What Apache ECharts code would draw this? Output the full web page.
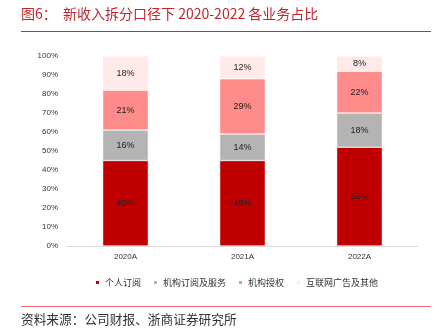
<!DOCTYPE html>
<html><head><meta charset="utf-8">
<script src="https://cdn.jsdelivr.net/npm/echarts@6/dist/echarts.min.js"></script>
<style>html,body{margin:0;padding:0;background:#fff}#c{width:439px;height:332px}</style>
</head><body><div id="c"></div>
<script>
var categories = ['2020A', '2021A', '2022A'];
var seriesNames = ['个人订阅', '机构订阅及服务', '机构授权', '互联网广告及其他'];
var personal = [45, 45, 52];
var institution = [16, 14, 18];
var licensing = [21, 29, 22];
var adsOther = [18, 12, 8];
var yTicks = [0, 10, 20, 30, 40, 50, 60, 70, 80, 90, 100];

var colors = ['#C00000', '#B4B4B4', '#FF8B8B', '#FFE9E9'];
var data = [personal, institution, licensing, adsOther];
var chart = echarts.init(document.getElementById('c'), null, {renderer: 'canvas'});
var font = '"Noto Sans CJK SC", sans-serif';
chart.setOption({
  animation: false,
  grid: {left: 67, right: 21, top: 56, bottom: 86},
  legend: {
    top: 273, left: 89, itemWidth: 5, itemHeight: 5, itemGap: 11,
    icon: 'rect',
    textStyle: {fontSize: 9, color: '#333', fontFamily: font},
    data: seriesNames
  },
  xAxis: {
    type: 'category', data: categories,
    axisLine: {lineStyle: {color: '#D9D9D9'}},
    axisTick: {show: false},
    axisLabel: {fontSize: 8, color: '#333', margin: 7, fontFamily: 'Arial, "Liberation Sans", sans-serif'}
  },
  yAxis: {
    type: 'value', min: 0, max: 100, interval: 10,
    axisLine: {show: false}, axisTick: {show: false},
    splitLine: {show: false},
    axisLabel: {fontSize: 8, color: '#333', margin: 9, formatter: '{value}%', fontFamily: 'Arial, "Liberation Sans", sans-serif'}
  },
  series: seriesNames.map(function (n, i) {
    return {
      name: n, type: 'bar', stack: 'total', data: data[i], barWidth: '39%',
      itemStyle: {color: colors[i], borderColor: '#fff', borderWidth: 0.5},
      label: {show: true, position: 'inside', formatter: '{c}%', fontSize: 9, color: '#222', fontFamily: 'Arial, "Liberation Sans", sans-serif'}
    };
  }),
  graphic: [
    {type: 'text', left: 21, top: 7, style: {text: '图6：  新收入拆分口径下 2020-2022 各业务占比', fontSize: 14, fill: '#C0272D', fontFamily: font}},
    {type: 'rect', shape: {x: 21, y: 31, width: 410, height: 1}, style: {fill: '#D8262C'}},
    {type: 'rect', shape: {x: 21, y: 306, width: 410, height: 1}, style: {fill: '#E8696B'}},
    {type: 'text', left: 21, top: 313, style: {text: '资料来源：公司财报、浙商证券研究所', fontSize: 12.7, fill: '#333', fontFamily: font}}
  ]
});
</script></body></html>
